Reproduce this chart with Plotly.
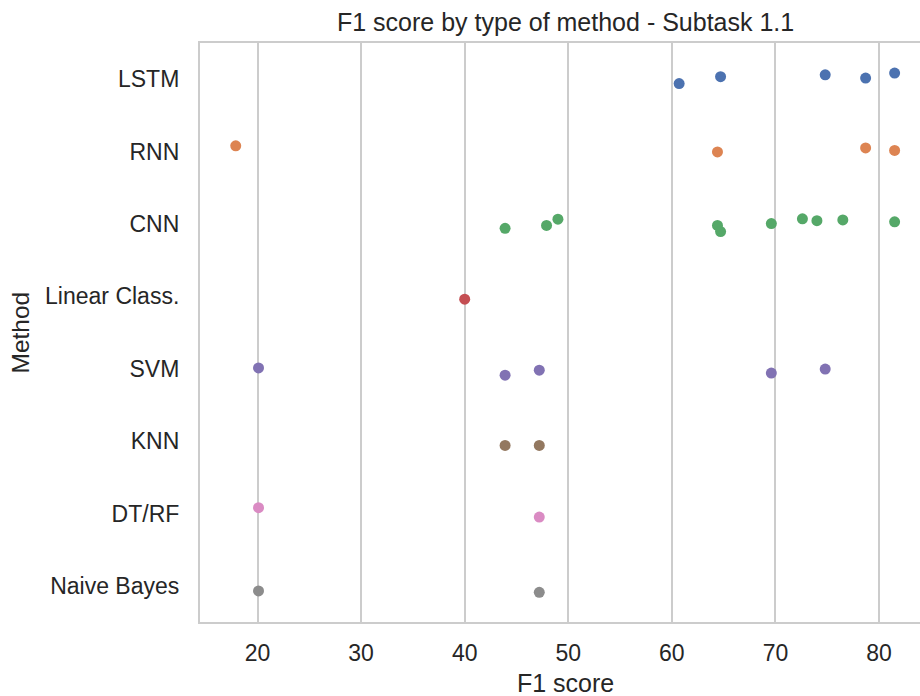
import plotly.graph_objects as go

# ---- data ----
categories = ["LSTM", "RNN", "CNN", "Linear Class.", "SVM", "KNN", "DT/RF", "Naive Bayes"]

lstm_f1 = [60.7, 64.7, 74.8, 78.7, 81.5]
lstm_jit = [0.06, -0.035, -0.06, -0.015, -0.085]

rnn_f1 = [17.9, 64.4, 78.7, 81.5]
rnn_jit = [-0.08, 0.005, -0.05, -0.015]

cnn_f1 = [43.9, 47.9, 49.0, 64.4, 64.7, 69.6, 72.6, 74.0, 76.5, 81.5]
cnn_jit = [0.06, 0.02, -0.065, 0.02, 0.105, -0.005, -0.07, -0.045, -0.055, -0.03]

linear_f1 = [40.0]
linear_jit = [0.04]

svm_f1 = [20.1, 43.9, 47.2, 69.6, 74.8]
svm_jit = [-0.01, 0.09, 0.02, 0.06, 0.005]

knn_f1 = [43.9, 47.2]
knn_jit = [0.06, 0.06]

dtrf_f1 = [20.1, 47.2]
dtrf_jit = [-0.08, 0.05]

nb_f1 = [20.1, 47.2]
nb_jit = [0.07, 0.09]

x_ticks = [20, 30, 40, 50, 60, 70, 80]

series = [lstm_f1, rnn_f1, cnn_f1, linear_f1, svm_f1, knn_f1, dtrf_f1, nb_f1]
jitters = [lstm_jit, rnn_jit, cnn_jit, linear_jit, svm_jit, knn_jit, dtrf_jit, nb_jit]
colors = ["#4C72B0", "#DD8452", "#55A868", "#C44E52", "#8172B3", "#937860", "#DA8BC3", "#8C8C8C"]

FONT = "Liberation Sans, Arial, Helvetica, sans-serif"
TXT = "#262626"

fig = go.Figure()
for i, (cat, vals, jit, col) in enumerate(zip(categories, series, jitters, colors)):
    fig.add_trace(go.Scatter(
        x=vals,
        y=[i + j for j in jit],
        mode="markers",
        name=cat,
        marker=dict(color=col, size=11, line=dict(width=0)),
        showlegend=False,
    ))

fig.update_layout(
    width=920, height=696,
    margin=dict(l=200, r=0, t=43, b=74),
    paper_bgcolor="white", plot_bgcolor="white",
    font=dict(family=FONT, color=TXT),
    annotations=[
        dict(text="F1 score by type of method - Subtask 1.1", xref="paper", yref="paper",
             x=0.508, y=1.036, xanchor="center", yanchor="middle", showarrow=False,
             font=dict(size=25, color=TXT, family=FONT)),
        dict(text="F1 score", xref="paper", yref="paper",
             x=0.508, y=-0.105, xanchor="center", yanchor="middle", showarrow=False,
             font=dict(size=25, color=TXT, family=FONT)),
        dict(text="Method", xref="paper", yref="paper",
             x=-0.25, y=0.5, xanchor="center", yanchor="middle", showarrow=False,
             textangle=-90, font=dict(size=24.5, color=TXT, family=FONT)),
    ],
)

fig.update_xaxes(
    range=[14.45, 83.95],
    tickvals=x_ticks, ticktext=[str(t) for t in x_ticks],
    showgrid=True, gridcolor="#cccccc", gridwidth=1.8,
    zeroline=False,
    showline=True, linecolor="#cccccc", linewidth=2.2, mirror=True,
    ticks="", ticklabelstandoff=9,
    tickfont=dict(size=23, color=TXT, family=FONT),
)
fig.update_yaxes(
    range=[7.5, -0.5],
    tickvals=list(range(len(categories))), ticktext=categories,
    showgrid=False, zeroline=False,
    showline=True, linecolor="#cccccc", linewidth=2.2, mirror=False,
    ticks="", ticklabelstandoff=14,
    tickfont=dict(size=23, color=TXT, family=FONT),
)

fig.write_html("out.html", config={"displayModeBar": False},
               post_script="document.body.style.margin='0px';")
